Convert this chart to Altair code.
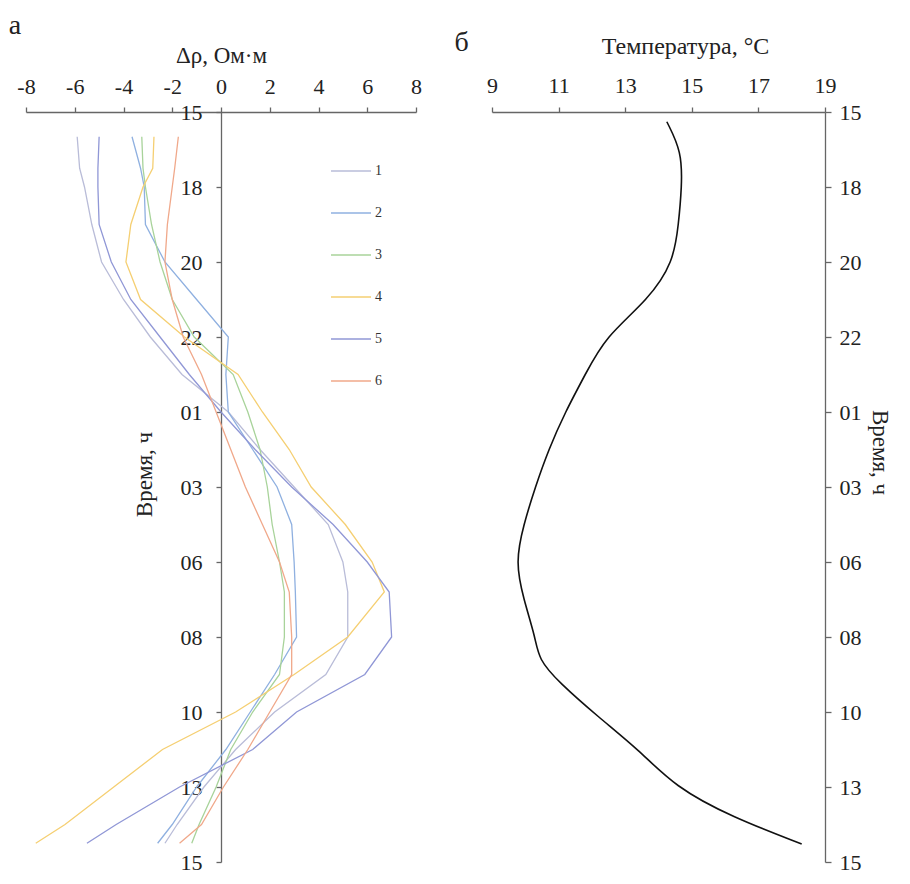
import altair as alt
import pandas as pd

time_labels = ["15", "18", "20", "22", "01", "03", "06", "08", "10", "13", "15"]
series_names = ["1", "2", "3", "4", "5", "6"]
series_colors = ["#b9bcd8", "#8fb0e0", "#a8d39a", "#f5cf72", "#9097d6", "#f0a88a"]

pos = [0.33, 0.75, 1, 1.5, 2, 2.5, 3, 3.5, 4, 4.5, 5, 5.5, 6, 6.4, 7, 7.5, 8, 8.5, 9, 9.5, 9.75]
s1 = [-5.9, -5.8, -5.6, -5.3, -4.9, -4.0, -2.9, -1.6, 0.3, 1.6, 3.0, 4.4, 5.0, 5.2, 5.2, 4.3, 2.2, 0.6, -0.7, -1.8, -2.3]
s2 = [-3.65, -3.3, -3.15, -3.1, -2.3, -1.0, 0.3, 0.2, 0.3, 1.3, 2.3, 2.9, 3.0, 3.05, 3.1, 2.2, 1.2, 0.2, -1.0, -2.0, -2.6]
s3 = [-3.25, -3.2, -3.1, -2.85, -2.5, -2.0, -1.1, 0.5, 1.1, 1.6, 1.9, 2.1, 2.4, 2.6, 2.6, 2.4, 1.3, 0.4, -0.2, -0.9, -1.2]
s4 = [-2.75, -2.8, -3.2, -3.7, -3.9, -3.3, -1.5, 0.7, 1.7, 2.8, 3.7, 5.1, 6.2, 6.7, 5.2, 3.0, 0.6, -2.4, -4.4, -6.4, -7.6]
s5 = [-5.0, -5.05, -5.05, -5.0, -4.5, -3.7, -2.5, -1.3, 0.0, 1.4, 2.9, 4.6, 6.0, 6.9, 7.0, 5.9, 3.1, 1.3, -1.7, -4.3, -5.5]
s6 = [-1.75, -1.9, -2.0, -2.2, -2.3, -2.0, -1.55, -0.8, -0.2, 0.4, 1.0, 1.7, 2.4, 2.8, 2.9, 2.9, 2.0, 1.1, 0.1, -0.8, -1.7]

temp_pos = [0.13, 0.53, 1, 1.5, 2, 2.5, 3, 3.5, 4, 4.5, 5, 5.5, 6, 6.5, 7, 7.3, 7.6, 8.07, 8.5, 9, 9.4, 9.76]
temp = [14.25, 14.7, 14.7, 14.6, 14.45, 13.7, 12.4, 11.8, 11.2, 10.7, 10.3, 9.95, 9.7, 9.95, 10.3, 10.4, 11.0, 12.2, 13.4, 14.5, 16.2, 18.3]

all_series = [s1, s2, s3, s4, s5, s6]
rows = []
for name, vals in zip(series_names, all_series):
    for p, v in zip(pos, vals):
        rows.append({"series": name, "pos": p, "value": v})
df = pd.DataFrame(rows)
tdf = pd.DataFrame({"pos": temp_pos, "temp": temp})

FONT = "Liberation Serif"
LBL = 22
TTL = 23
H = 750
label_js = "[" + ",".join("'%s'" % t for t in time_labels) + "]"
y_label_expr = label_js + "[round(datum.value)]"

y_scale = alt.Scale(domain=[0, 10], reverse=True, nice=False, zero=False)

common = dict(labelFont=FONT, titleFont=FONT, labelFontSize=LBL, titleFontSize=TTL,
              labelColor="#222", titleColor="#222", titleFontWeight="normal",
              domainColor="#666", tickColor="#666", domainWidth=1.3, tickWidth=1.3,
              grid=False, labelFlush=False)

left = alt.Chart(df).mark_line(strokeWidth=1.3).encode(
    x=alt.X("value:Q",
            scale=alt.Scale(domain=[-8, 8], nice=False),
            axis=alt.Axis(orient="top", values=list(range(-8, 9, 2)), title="Δρ, Ом·м",
                          labelExpr="'' + datum.value", tickSize=5,
                          labelPadding=9, titlePadding=8, **common)),
    y=alt.Y("pos:Q", scale=y_scale,
            axis=alt.Axis(values=list(range(11)), labelExpr=y_label_expr, offset=-195,
                          title="Время, ч", tickSize=5, labelPadding=14,
                          titlePadding=24, titleY=362, **common)),
    color=alt.Color("series:N",
                    scale=alt.Scale(domain=series_names, range=series_colors),
                    legend=alt.Legend(title=None, orient="none", legendX=304, legendY=38,
                                      symbolType="stroke", symbolSize=1600,
                                      symbolStrokeWidth=1.6, labelFontSize=14,
                                      labelFont=FONT, rowPadding=14, labelOffset=3)),
    order=alt.Order("pos:Q"),
).properties(
    width=390, height=H,
    title=alt.TitleParams("а", anchor="start", dx=-8, fontSize=28, font=FONT,
                          fontWeight="normal", color="#222"),
)

right = alt.Chart(tdf).mark_line(strokeWidth=1.6, color="#111", interpolate="basis").encode(
    x=alt.X("temp:Q",
            scale=alt.Scale(domain=[9, 19], nice=False, zero=False),
            axis=alt.Axis(orient="top", values=list(range(9, 20, 2)), title="Температура, °C",
                          tickSize=5, labelPadding=10, titlePadding=16, titleX=193,
                          **dict(common, titleFontSize=24))),
    y=alt.Y("pos:Q", scale=y_scale,
            axis=alt.Axis(orient="right", values=list(range(11)), labelExpr=y_label_expr,
                          title="Время, ч", titleAngle=90, tickSize=6,
                          labelPadding=8, titlePadding=6, titleY=340, **common)),
    order=alt.Order("pos:Q"),
).properties(
    width=333, height=H,
    title=alt.TitleParams("б", anchor="start", dx=-32, dy=27, fontSize=28, font=FONT,
                          fontWeight="normal", color="#222"),
)

chart = alt.hconcat(left, right, spacing=32).configure_view(stroke=None).configure_legend(
    labelColor="#333").properties(padding={"left": 0, "top": 4, "right": 4, "bottom": 0})

chart.save("out.html", embed_options={"renderer": "svg", "actions": False})
